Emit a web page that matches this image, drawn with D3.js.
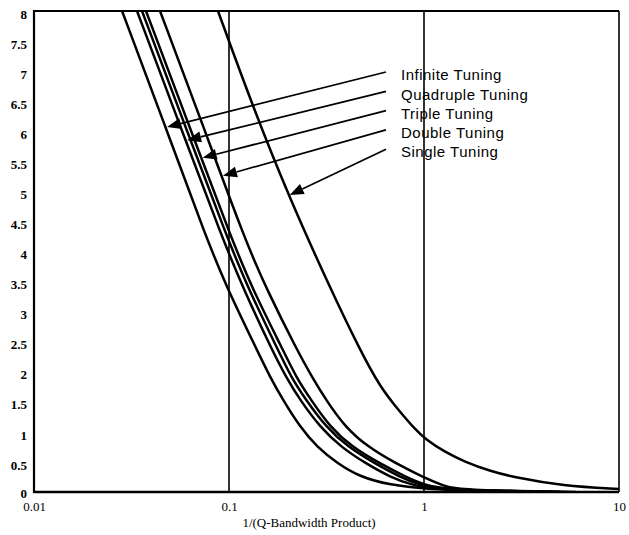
<!DOCTYPE html>
<html>
<head>
<meta charset="utf-8">
<script src="https://cdn.jsdelivr.net/npm/d3@7"></script>
<style>
  html, body { margin: 0; padding: 0; background: #fff; }
  svg { display: block; }
</style>
</head>
<body>
<svg id="chart" width="629" height="535"></svg>
<script>
// ---------- data ----------
const xTicks = [0.01, 0.1, 1, 10];
const xTickLabels = ["0.01", "0.1", "1", "10"];
const yTicks = [0, 0.5, 1, 1.5, 2, 2.5, 3, 3.5, 4, 4.5, 5, 5.5, 6, 6.5, 7, 7.5, 8];
const yTickLabels = ["0", "0.5", "1", "1.5", "2", "2.5", "3", "3.5", "4", "4.5", "5", "5.5", "6", "6.5", "7", "7.5", "8"];
const gridX = [0.1, 1];

// curves [x, y] (x = 1/(Q-Bandwidth Product))
const infiniteTuning = [[0.02828, 8], [0.04587, 6.187], [0.07713, 4.191], [0.09883, 3.36], [0.1392, 2.362], [0.1623, 1.913], [0.1892, 1.53], [0.2312, 1.081], [0.2827, 0.748], [0.3579, 0.482], [0.4697, 0.249], [0.6695, 0.116], [1.012, 0.05], [1.938, 0.017], [4, 0]];
const quadrupleTuning = [[0.03375, 8], [0.05476, 6.187], [0.09316, 4.191], [0.1194, 3.36], [0.1661, 2.362], [0.1961, 1.913], [0.2312, 1.53], [0.2929, 1.081], [0.3753, 0.748], [0.4983, 0.482], [0.6695, 0.249], [0.8678, 0.116], [1.139, 0.05], [2.181, 0.017], [4.5, 0]];
const unlabeledSeries = [[0.0358, 8], [0.05808, 6.187], [0.09883, 4.191], [0.1266, 3.36], [0.1784, 2.362], [0.2079, 1.913], [0.2483, 1.53], [0.3144, 1.081], [0.4077, 0.748], [0.5541, 0.482], [0.7533, 0.249], [0.9539, 0.116], [1.208, 0.05], [2.313, 0.017], [5, 0]];
const tripleTuning = [[0.03753, 8], [0.06091, 6.187], [0.1036, 4.191], [0.1327, 3.36], [0.1892, 2.362], [0.2206, 1.913], [0.2633, 1.53], [0.3296, 1.081], [0.4273, 0.748], [0.5877, 0.482], [0.8087, 0.249], [1.012, 0.116], [1.282, 0.05], [2.453, 0.017], [5, 0]];
const doubleTuning = [[0.04428, 8], [0.07186, 6.187], [0.1208, 4.191], [0.1566, 3.36], [0.2232, 2.362], [0.2665, 1.913], [0.3144, 1.53], [0.3935, 1.081], [0.5162, 0.748], [0.7101, 0.482], [0.9883, 0.249], [1.237, 0.116], [1.408, 0.05], [2.761, 0.017], [6, 0]];
const singleTuning = [[0.0878, 8], [0.1327, 6.403], [0.2031, 4.906], [0.3336, 3.36], [0.4697, 2.362], [0.5949, 1.746], [0.7533, 1.331], [0.878, 1.081], [1.024, 0.865], [1.282, 0.665], [1.623, 0.499], [2.181, 0.349], [2.86, 0.249], [5.16, 0.1], [10, 0.05]];

const curves = [infiniteTuning, quadrupleTuning, unlabeledSeries, tripleTuning, doubleTuning, singleTuning];

// annotations: label, curve index, target y value
const labels = ["Infinite Tuning", "Quadruple Tuning", "Triple Tuning", "Double Tuning", "Single Tuning"];
const labelCurve = [0, 1, 3, 4, 5];
const labelTargetY = [6.07, 5.85, 5.56, 5.26, 4.94];

// ---------- layout ----------
const svg = d3.select("#chart");
const mLeft = 34, mRight = 619, mTop = 11, mBottom = 492;

const x = d3.scaleLog().domain([0.01, 10]).range([mLeft, mRight]);
const y = d3.scaleLinear().domain([0, 8]).range([mBottom, mTop]);

const clipId = "plotclip";
svg.append("defs").append("clipPath").attr("id", clipId)
  .append("rect").attr("x", mLeft).attr("y", mTop).attr("width", mRight - mLeft).attr("height", mBottom - mTop);

// vertical grid lines
svg.append("g").selectAll("line").data(gridX).join("line")
  .attr("x1", d => x(d)).attr("x2", d => x(d))
  .attr("y1", mTop).attr("y2", mBottom)
  .attr("stroke", "#000").attr("stroke-width", 1.6);

// curves
const line = d3.line().x(d => x(d[0])).y(d => y(d[1])).curve(d3.curveBasis);
svg.append("g").attr("clip-path", `url(#${clipId})`)
  .selectAll("path").data(curves).join("path")
  .attr("d", line)
  .attr("fill", "none").attr("stroke", "#000").attr("stroke-width", 2.5)
  .attr("stroke-linejoin", "round");

// frame
svg.append("line").attr("x1", mLeft).attr("x2", mRight).attr("y1", mTop).attr("y2", mTop).attr("stroke", "#000").attr("stroke-width", 2);
svg.append("line").attr("x1", mRight).attr("x2", mRight).attr("y1", mTop).attr("y2", mBottom).attr("stroke", "#000").attr("stroke-width", 1.6);
svg.append("line").attr("x1", mLeft).attr("x2", mLeft).attr("y1", mTop - 1).attr("y2", mBottom + 1).attr("stroke", "#000").attr("stroke-width", 2.2);
svg.append("line").attr("x1", mLeft).attr("x2", mRight).attr("y1", mBottom).attr("y2", mBottom).attr("stroke", "#000").attr("stroke-width", 2.4);

// y axis labels
const yAxis = d3.axisLeft(y).tickValues(yTicks).tickSize(0).tickPadding(7)
  .tickFormat((d, i) => yTickLabels[i]);
const gy = svg.append("g").attr("transform", `translate(${mLeft},0)`).call(yAxis);
gy.select(".domain").remove();
gy.selectAll("text")
  .attr("font-family", "'Liberation Serif', 'Times New Roman', serif")
  .attr("font-size", 13).attr("font-weight", "bold").attr("fill", "#000")
  .attr("dy", (d) => d === 0 ? "0.4em" : "0.55em");

// x axis labels
const xAxis = d3.axisBottom(x).tickValues(xTicks).tickSize(0).tickPadding(10)
  .tickFormat((d, i) => xTickLabels[i]);
const gx = svg.append("g").attr("transform", `translate(0,${mBottom})`).call(xAxis);
gx.select(".domain").remove();
gx.selectAll("text")
  .attr("font-family", "'Liberation Serif', 'Times New Roman', serif")
  .attr("font-size", 13).attr("fill", "#000");

// x axis title
svg.append("text")
  .attr("x", 309).attr("y", 527)
  .attr("text-anchor", "middle")
  .attr("font-family", "'Liberation Serif', 'Times New Roman', serif")
  .attr("font-size", 13).attr("fill", "#000")
  .text("1/(Q-Bandwidth Product)");

// annotations
function xOnCurve(curve, yv) {
  for (let i = 0; i < curve.length - 1; i++) {
    const [x0, y0] = curve[i], [x1, y1] = curve[i + 1];
    if ((yv <= y0 && yv >= y1)) {
      const t = (y0 - yv) / (y0 - y1);
      return Math.exp(Math.log(x0) + t * (Math.log(x1) - Math.log(x0)));
    }
  }
  return curve[0][0];
}

const labelX = 401, labelY0 = 75, labelDY = 19.3;
const ann = svg.append("g");
labels.forEach((lab, i) => {
  const ly = labelY0 + i * labelDY;
  const tx = x(xOnCurve(curves[labelCurve[i]], labelTargetY[i])) + 1.5;
  const ty = y(labelTargetY[i]);
  const sx = labelX - 15, sy = ly - 3;
  ann.append("text")
    .attr("x", labelX).attr("y", ly).attr("dy", "0.35em")
    .attr("font-family", "'Liberation Sans', Arial, sans-serif")
    .attr("font-size", 15).attr("letter-spacing", 0.5).attr("fill", "#000")
    .text(lab);
  const ang = Math.atan2(ty - sy, tx - sx);
  const hl = 14, hw = 5.5;
  const bx = tx - hl * Math.cos(ang), by = ty - hl * Math.sin(ang);
  ann.append("line")
    .attr("x1", sx).attr("y1", sy).attr("x2", bx).attr("y2", by)
    .attr("stroke", "#000").attr("stroke-width", 1.7);
  const p1 = [bx + hw * Math.sin(ang), by - hw * Math.cos(ang)];
  const p2 = [bx - hw * Math.sin(ang), by + hw * Math.cos(ang)];
  ann.append("path")
    .attr("d", `M${tx},${ty}L${p1[0]},${p1[1]}L${p2[0]},${p2[1]}Z`)
    .attr("fill", "#000");
});
</script>
</body>
</html>
